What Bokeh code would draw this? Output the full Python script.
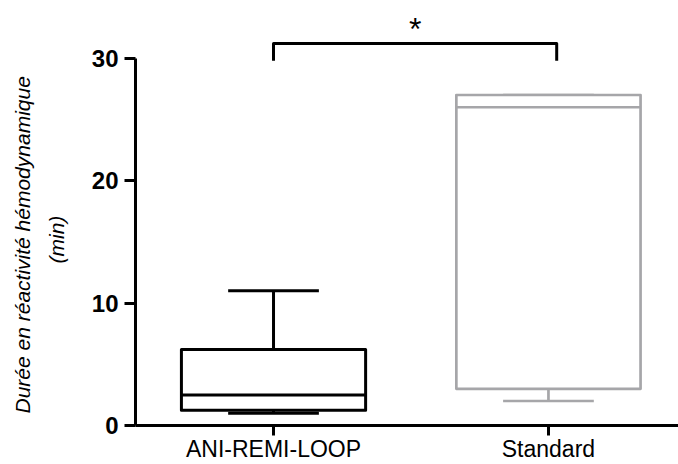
from bokeh.plotting import figure
from bokeh.models import Range1d, FixedTicker, ColumnDataSource, Title
from bokeh.core.properties import value
from bokeh.embed import file_html
from bokeh.resources import INLINE

# ---- data ----
categories = ["ANI-REMI-LOOP", "Standard"]
positions = [1, 2]
whisker_low = [1.0, 2.0]
q1 = [1.25, 3.0]
median = [2.5, 26.0]
q3 = [6.2, 27.0]
whisker_high = [11.0, 27.0]
box_colors = ["#000000", "#a6a6a9"]
y_ticks = [0, 10, 20, 30]
bracket_x = [1.0, 2.03]
bracket_y = [29.8, 31.2]
significance = "*"
y_label_lines = ["Durée en réactivité hémodynamique", "(min)"]

BOX_W = 0.67
CAP_W = 0.33

p = figure(width=678, height=464, output_backend="svg", toolbar_location=None,
           x_range=Range1d(0.498, 2.473), y_range=Range1d(0, 34.72),
           min_border_left=135, min_border_right=0, min_border_top=0,
           min_border_bottom=39, background_fill_color="white",
           border_fill_color="white")
p.outline_line_color = None
p.xgrid.visible = False
p.ygrid.visible = False

# axes
p.yaxis.ticker = FixedTicker(ticks=y_ticks)
p.yaxis.bounds = (y_ticks[0], y_ticks[-1])
p.yaxis.axis_line_width = 3
p.yaxis.major_tick_line_width = 3
p.yaxis.major_tick_out = 11
p.yaxis.major_tick_in = 0
p.yaxis.minor_tick_line_color = None
p.yaxis.major_label_text_font = "Liberation Sans"
p.yaxis.major_label_text_font_style = "bold"
p.yaxis.major_label_text_font_size = "24px"
p.yaxis.major_label_text_color = "black"
p.yaxis.major_label_standoff = 6

p.xaxis.ticker = FixedTicker(ticks=positions)
p.xaxis.major_label_overrides = {pos: c for pos, c in zip(positions, categories)}
p.xaxis.axis_line_width = 3
p.xaxis.major_tick_line_width = 3
p.xaxis.major_tick_out = 10
p.xaxis.major_tick_in = 0
p.xaxis.minor_tick_line_color = None
p.xaxis.major_label_text_font = "Liberation Sans"
p.xaxis.major_label_text_font_size = "23px"
p.xaxis.major_label_text_color = "black"
p.xaxis.major_label_standoff = 0

# y-axis title lines (inner line first, outer line second)
p.add_layout(Title(text=y_label_lines[1], align="left", offset=162, standoff=41,
                   text_font="Liberation Sans", text_font_style="italic",
                   text_font_size="21px", text_color="black"), "left")
p.add_layout(Title(text=y_label_lines[0], align="left", offset=12, standoff=-23,
                   text_font="Liberation Sans", text_font_style="italic",
                   text_font_size="21px", text_color="black"), "left")

# boxes
src = ColumnDataSource(dict(
    x=positions,
    left=[x - BOX_W / 2 for x in positions],
    right=[x + BOX_W / 2 for x in positions],
    cl=[x - CAP_W / 2 for x in positions],
    cr=[x + CAP_W / 2 for x in positions],
    lo=whisker_low, q1=q1, med=median, q3=q3, hi=whisker_high,
    color=box_colors,
    lw=[3, 2.7],
))

p.segment(x0="x", y0="q3", x1="x", y1="hi", source=src, line_color="color", line_width="lw")
p.segment(x0="x", y0="q1", x1="x", y1="lo", source=src, line_color="color", line_width="lw")
p.segment(x0="cl", y0="hi", x1="cr", y1="hi", source=src, line_color="color", line_width="lw")
p.segment(x0="cl", y0="lo", x1="cr", y1="lo", source=src, line_color="color", line_width="lw")
p.quad(left="left", right="right", bottom="q1", top="q3", source=src,
       fill_color="white", line_color="color", line_width="lw", line_join="round")
p.segment(x0="left", y0="med", x1="right", y1="med", source=src,
          line_color="color", line_width="lw")

# significance bracket
p.line(x=[bracket_x[0], bracket_x[0], bracket_x[1], bracket_x[1]],
       y=[bracket_y[0], bracket_y[1], bracket_y[1], bracket_y[0]],
       line_color="black", line_width=3, line_join="round")
p.text(x=[(bracket_x[0] + bracket_x[1]) / 2], y=[32.4], text=[significance],
       text_font=value("Liberation Sans"), text_font_size="32px",
       text_align="center", text_baseline="middle", text_color="black")

open("out.html", "w").write(file_html(p, INLINE))
